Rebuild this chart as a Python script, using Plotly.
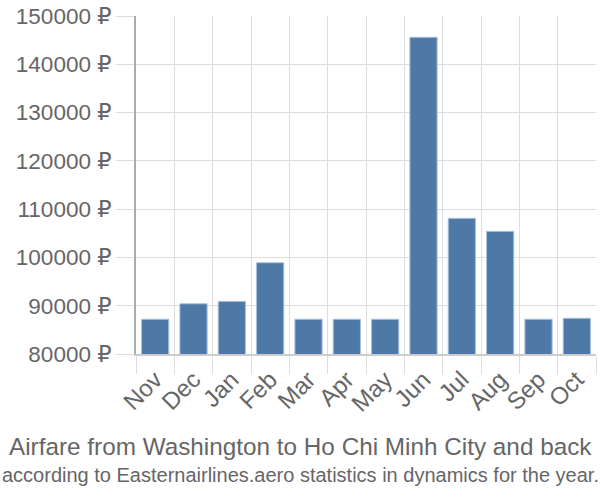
import plotly.graph_objects as go

months = ["Nov", "Dec", "Jan", "Feb", "Mar", "Apr", "May", "Jun", "Jul", "Aug", "Sep", "Oct"]
prices = [87200, 90400, 90900, 98900, 87200, 87200, 87200, 145600, 108100, 105400, 87200, 87400]
y_ticks = [80000, 90000, 100000, 110000, 120000, 130000, 140000, 150000]
y_labels = [f"{v} ₽" for v in y_ticks]

title1 = "Airfare from Washington to Ho Chi Minh City and back"
title2 = "according to Easternairlines.aero statistics in dynamics for the year."

fig = go.Figure(go.Bar(
    x=months, y=prices,
    marker=dict(color="#4e79a7", line=dict(color="#a9c0dc", width=1)),
))

font_family = "Liberation Sans, Arial, DejaVu Sans, sans-serif"

fig.update_layout(
    width=600, height=500,
    margin=dict(l=136, r=4, t=14, b=146),
    paper_bgcolor="white", plot_bgcolor="white",
    bargap=0.29,
    showlegend=False,
    font=dict(family=font_family, color="#666666"),
    xaxis=dict(
        tickangle=-45, tickfont=dict(size=24, color="#666666"),
        tickson="boundaries", ticks="outside", ticklen=18, tickcolor="#dddddd",
        showgrid=True, gridcolor="#dddddd", gridwidth=1,
        showline=True, linecolor="#cccccc", linewidth=2,
    ),
    yaxis=dict(
        range=[80000, 150000], tickvals=y_ticks, ticktext=y_labels,
        tickfont=dict(size=22.5, color="#666666"),
        ticks="outside", ticklen=18, tickcolor="#dddddd",
        showgrid=True, gridcolor="#dddddd", gridwidth=1,
        showline=True, linecolor="#aaaaaa", linewidth=2,
        zeroline=False,
    ),
    annotations=[
        dict(text=title1, xref="paper", yref="paper", x=(300 - 136) / 460, y=-(447 - 354) / 340,
             xanchor="center", yanchor="middle", showarrow=False,
             font=dict(size=24.3, color="#666666", family=font_family)),
        dict(text=title2, xref="paper", yref="paper", x=(300 - 136) / 460, y=-(476 - 354) / 340,
             xanchor="center", yanchor="middle", showarrow=False,
             font=dict(size=20, color="#666666", family=font_family)),
    ],
)

fig.write_html("out.html")
